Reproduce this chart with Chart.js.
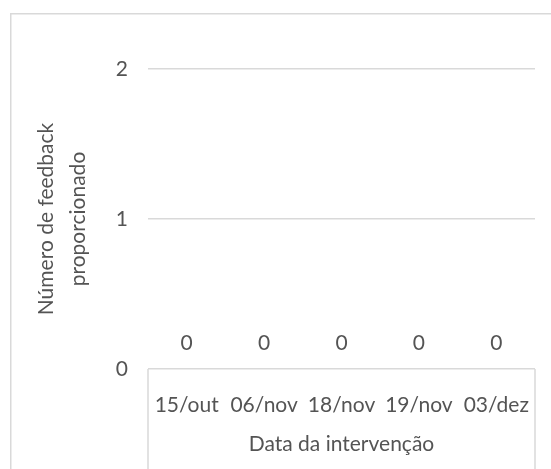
<!DOCTYPE html>
<html>
<head>
<meta charset="utf-8">
<script src="https://cdn.jsdelivr.net/npm/chart.js@4/dist/chart.umd.min.js"></script>
<style>
  html, body { margin: 0; padding: 0; background: #ffffff; }
  #wrap { position: relative; width: 551px; height: 469px; }
</style>
</head>
<body>
<div id="wrap"><canvas id="chart" width="551" height="469"></canvas></div>
<script>
// Intervention dates and the amount of feedback given on each
const categories = ['15/out', '06/nov', '18/nov', '19/nov', '03/dez'];
const feedbackCounts = [0, 0, 0, 0, 0];
const yTickValues = [0, 1, 2];

const TEXT = '#545454';
const LINE = '#d9d9d9';
const FONT = 'Lato, "Open Sans", sans-serif';

// Outer frame around the chart object
const framePlugin = {
  id: 'frame',
  beforeDraw(chart) {
    const ctx = chart.ctx;
    ctx.save();
    ctx.strokeStyle = LINE;
    ctx.lineWidth = 1.5;
    ctx.strokeRect(10.75, 13.75, chart.width + 50, chart.height + 50);
    ctx.restore();
  }
};

// Box enclosing the category labels below the plot
const axisBoxPlugin = {
  id: 'axisBox',
  afterDraw(chart) {
    const { ctx, chartArea } = chart;
    ctx.save();
    ctx.strokeStyle = LINE;
    ctx.lineWidth = 1.5;
    ctx.beginPath();
    ctx.moveTo(chartArea.left, chartArea.bottom);
    ctx.lineTo(chartArea.left, chart.height + 5);
    ctx.moveTo(chartArea.right, chartArea.bottom);
    ctx.lineTo(chartArea.right, chart.height + 5);
    ctx.stroke();
    ctx.restore();
  }
};

// Value labels above each bar
const valueLabelPlugin = {
  id: 'valueLabels',
  afterDatasetsDraw(chart) {
    const ctx = chart.ctx;
    const meta = chart.getDatasetMeta(0);
    ctx.save();
    ctx.fillStyle = TEXT;
    ctx.font = '21px ' + FONT;
    ctx.textAlign = 'center';
    ctx.textBaseline = 'middle';
    meta.data.forEach((bar, i) => {
      ctx.fillText(String(feedbackCounts[i]), bar.x, bar.y - 26);
    });
    ctx.restore();
  }
};

new Chart(document.getElementById('chart'), {
  type: 'bar',
  data: {
    labels: categories,
    datasets: [{
      data: feedbackCounts,
      backgroundColor: '#4472c4',
      barPercentage: 0.6,
      categoryPercentage: 1
    }]
  },
  options: {
    responsive: false,
    animation: false,
    devicePixelRatio: 1,
    layout: { padding: { top: 69, right: 16, left: 0, bottom: 0 } },
    plugins: {
      legend: { display: false },
      tooltip: { enabled: false }
    },
    scales: {
      x: {
        grid: { display: false },
        border: { display: false },
        ticks: {
          color: TEXT,
          font: { family: FONT, size: 21 },
          padding: 16,
          maxRotation: 0,
          autoSkip: false
        },
        title: {
          display: true,
          text: 'Data da intervenção',
          color: TEXT,
          font: { family: FONT, size: 21 },
          padding: { top: 0, bottom: 12 }
        },
        afterFit(scale) { scale.height = 100; }
      },
      y: {
        min: 0,
        max: 2,
        afterBuildTicks(scale) {
          scale.ticks = yTickValues.map(v => ({ value: v }));
        },
        grid: { color: LINE, lineWidth: 1.5, drawTicks: false },
        border: { display: false },
        ticks: {
          color: TEXT,
          font: { family: FONT, size: 21 },
          padding: 20
        },
        title: {
          display: true,
          text: ['Número de feedback', 'proporcionado'],
          color: TEXT,
          font: { family: FONT, size: 21, lineHeight: 32 / 21 },
          padding: { top: 30, bottom: 0 }
        },
        afterFit(scale) { scale.width = 148; }
      }
    }
  },
  plugins: [framePlugin, axisBoxPlugin, valueLabelPlugin]
});
</script>
</body>
</html>
